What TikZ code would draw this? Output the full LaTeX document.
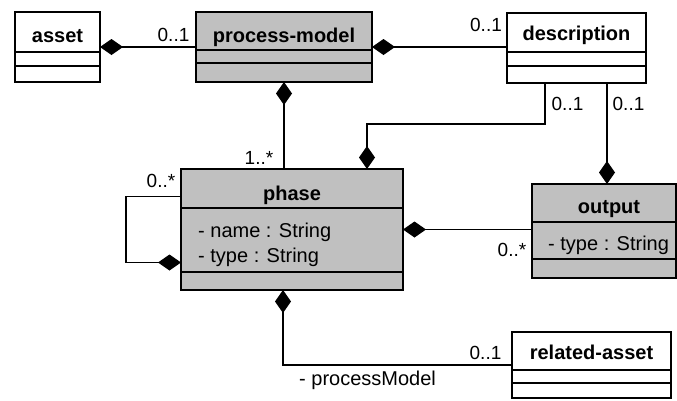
\documentclass[tikz,border=0pt]{standalone}
\usepackage{fontspec}
\setmainfont{Liberation Sans}
\usetikzlibrary{arrows.meta}
\definecolor{classgray}{RGB}{192,192,192}
\tikzstyle{classbox} = [rectangle, draw=black, line width=2.4pt, inner sep=0pt, outer sep=0pt]
\tikzstyle{plain} = [classbox, fill=white]
\tikzstyle{shaded} = [classbox, fill=classgray]
\tikzstyle{title} = [anchor=base, inner sep=0pt, font=\bfseries\fontsize{20}{24}\selectfont]
\tikzstyle{attr} = [anchor=base west, inner sep=0pt, font=\fontsize{20}{24}\selectfont]
\tikzstyle{mult} = [inner sep=0pt, font=\fontsize{19}{22}\selectfont]
\tikzstyle{divider} = [line width=1.2pt]
\tikzstyle{comp} = [line width=1.2pt, -{Diamond[length=23pt,width=16pt]}]

\begin{document}
\begin{tikzpicture}[x=1pt, y=-1pt]
\useasboundingbox (0,0) rectangle (677,400);
\node (asset) [plain, minimum width=85, minimum height=70] at (57.5,47) {};
\node (pm) [shaded, minimum width=176, minimum height=70] at (284,47) {};
\node (description) [plain, minimum width=139, minimum height=70] at (576.5,48) {};
\node (phase) [shaded, minimum width=222, minimum height=121] at (292,229.5) {};
\node (output) [shaded, minimum width=144, minimum height=94] at (604,231) {};
\node (related) [plain, minimum width=159, minimum height=66] at (591.5,365) {};

\draw [divider] (asset.west |- 0,52) -- (asset.east |- 0,52);
\draw [divider] (asset.west |- 0,66) -- (asset.east |- 0,66);
\draw [divider] (pm.west |- 0,50) -- (pm.east |- 0,50);
\draw [divider] (pm.west |- 0,63) -- (pm.east |- 0,63);
\draw [divider] (description.west |- 0,52) -- (description.east |- 0,52);
\draw [divider] (description.west |- 0,66) -- (description.east |- 0,66);
\draw [divider] (phase.west |- 0,208) -- (phase.east |- 0,208);
\draw [divider] (phase.west |- 0,272) -- (phase.east |- 0,272);
\draw [divider] (output.west |- 0,222) -- (output.east |- 0,222);
\draw [divider] (output.west |- 0,259) -- (output.east |- 0,259);
\draw [divider] (related.west |- 0,370) -- (related.east |- 0,370);
\draw [divider] (related.west |- 0,383) -- (related.east |- 0,383);

\node (assetname) [title] at (57.5,42) {asset};
\node (pmname) [title] at (284,42) {process-model};
\node (descname) [title] at (576.5,40) {description};
\node (phasename) [title] at (292,200) {phase};
\node (phasea) [attr] at (198,237) {- name : String};
\node (phaseb) [attr] at (198,262) {- type : String};
\node (outname) [title] at (609,213) {output};
\node (outa) [attr] at (548,250) {- type : String};
\node (relname) [title] at (591.5,359) {related-asset};

\coordinate (elbow) at (367,124);
\draw [comp] (pm.west) -- (asset.east);
\draw [comp] (description.west |- pm.east) -- (pm.east);
\draw [comp] (phase.north -| pm.south) -- (pm.south);
\draw [comp] ([yshift=33pt]phase.west) -- ++(-55pt,0) -- ++(0,-66pt) -- ([yshift=-33pt]phase.west);
\draw [comp] ([xshift=-31.5pt]description.south) |- (elbow) -- (elbow |- phase.north);
\draw [comp] ([xshift=30.5pt]description.south) coordinate (dout) -- (dout |- output.north);
\draw [comp] (output.west |- phase.east) -- (phase.east);
\draw [comp] (related.west) -| ([xshift=-9pt]phase.south);

\node (m1) [mult] at (173.5,35) {0..1};
\node (m2) [mult] at (486,25) {0..1};
\node (m3) [mult] at (259,158) {1..*};
\node (m4) [mult] at (161,181) {0..*};
\node (m5) [mult] at (567.5,103.5) {0..1};
\node (m6) [mult] at (628.5,103.5) {0..1};
\node (m7) [mult] at (512,250) {0..*};
\node (m8) [mult] at (485.5,353) {0..1};
\node (role) [attr] at (299,385) {- processModel};
\end{tikzpicture}
\end{document}
